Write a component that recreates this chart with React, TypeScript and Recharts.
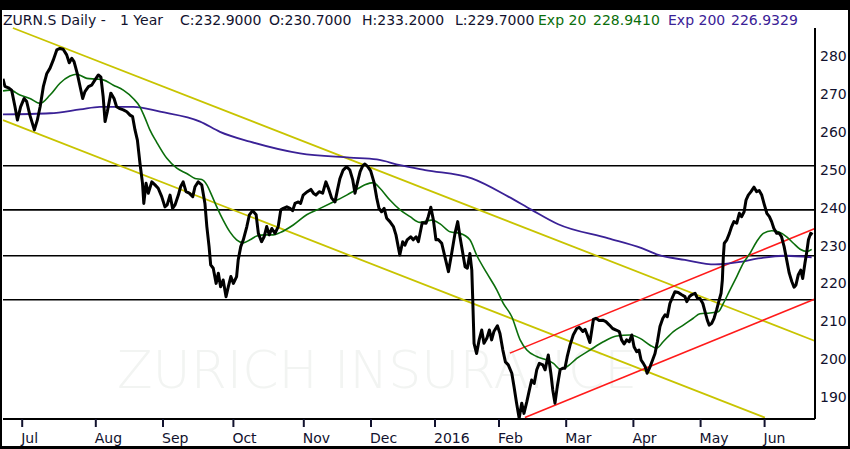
import React from 'react';
import { LineChart, Line, XAxis, YAxis, ReferenceLine } from 'recharts';

const W = 850;
const H = 449;

// trading day index (0 = 22 Jun 2015) and closing price
const close: [number, number][] = [
  [0, 274], [0.6, 272], [1.7, 271.6], [2.7, 271], [3.75, 266.6], [4.5, 263.1], [5.5, 266.6], [6.6, 268.8],
  [7.4, 268], [8.4, 264.4], [9.8, 260.5], [10.7, 263], [11.6, 266.6], [12.6, 271.9], [13.7, 275.4], [14.7, 276.8],
  [15.7, 278.9], [16.8, 281.6], [17.8, 282], [18.8, 281.8], [19.9, 280.3], [20.7, 278.2], [21.5, 279.4], [22.2, 278.5],
  [23.2, 275.4], [24.1, 271.9], [24.9, 268.8], [25.6, 270.6], [26.7, 271.9], [27.7, 272.3], [28.75, 273.7], [29.8, 275],
  [30.6, 274.4], [31.3, 269.3], [31.9, 262.7], [32.6, 265.3], [33.7, 270.2], [34.7, 268.8], [35.5, 266.6], [36.3, 266.2],
  [37.6, 265.8], [38.7, 265.3], [39.7, 264.4], [40.5, 264], [41.25, 260.5], [42, 257.8], [42.8, 251.7], [43.6, 246.4],
  [44, 241.1], [44.7, 246.4], [45.4, 243.8], [46.5, 246.8], [47.5, 246], [48.5, 245.1], [49.6, 242.9], [50.6, 240.2],
  [51.3, 240.7], [52.2, 243.3], [53, 239.8], [53.75, 240.7], [54.8, 243.3], [55.5, 245.5], [56.3, 246.8], [57.2, 244.2],
  [58.2, 243.8], [59.3, 242.9], [60, 245.5], [61, 246.8], [62.1, 246], [63.1, 241.1], [63.7, 235], [64.4, 229.7],
  [64.9, 224.9], [65.7, 224], [66.6, 220], [67.3, 222.7], [68, 219.1], [68.8, 220.9], [69.7, 216.5], [70.4, 219.1],
  [71.2, 221.8], [72, 220], [73, 221.8], [73.5, 226.2], [74.3, 229.7], [75.1, 231.5], [76.2, 235], [77, 238.1],
  [78, 239.2], [79.1, 238.1], [79.8, 233.2], [80.8, 231], [81.6, 232.3], [82.4, 235], [83.2, 232.8], [84, 234.5],
  [85, 233.2], [86, 235], [86.8, 239.4], [87.6, 239.8], [88.7, 240.2], [89.7, 239.8], [90.5, 239.2], [91.25, 241.1],
  [92.3, 241.5], [93, 241.1], [93.8, 243.3], [95.1, 244.2], [96.2, 244.8], [97, 243.8], [97.8, 243.3], [98.8, 244.2],
  [99.9, 243.8], [100.9, 246.8], [101.7, 245.1], [102.7, 242.5], [103.75, 241.5], [104.5, 244.6], [105.3, 247.7], [106.3, 249.9],
  [107.4, 250.8], [108.4, 249.9], [109.3, 247.3], [110, 243.8], [110.7, 246.4], [111.6, 249.5], [112.4, 251], [113.1, 251.5],
  [114, 250.8], [114.9, 249.7], [115.9, 246.8], [116.8, 242.5], [117.5, 239.8], [118.3, 238.9], [119.1, 239.8], [119.9, 237.2],
  [120.9, 236.3], [122, 235], [122.8, 232.8], [123.5, 229.7], [124, 227.5], [124.9, 231], [125.6, 230.1], [126.3, 231.5],
  [127.4, 232.3], [128.2, 231.5], [129.1, 232.3], [129.8, 231], [131, 236], [132.2, 235.9], [132.9, 237.6], [133.7, 240.1],
  [134.5, 236.7], [135.3, 231.5], [136, 231.6], [137.1, 230.6], [138.1, 227], [139.2, 223.1], [140.2, 227.9], [141.25, 233.2],
  [142.1, 236.3], [142.8, 232.3], [143.7, 227.9], [144.4, 224.4], [145.1, 224], [145.9, 227.9], [146.5, 223.5], [146.8, 215.6],
  [147.2, 204.2], [148, 201.5], [148.8, 205.1], [149.6, 207.7], [150.3, 204.2], [151.2, 205.5], [152, 207.7], [152.7, 205.1],
  [153.4, 207.3], [154.5, 208.8], [155.3, 206.8], [156.2, 202.4], [157, 199.3], [157.9, 198.5], [159, 196.3], [159.7, 192.7],
  [160.5, 188.4], [161.3, 184.4], [162.1, 188.4], [162.8, 185.7], [163.7, 188.8], [164.5, 191.9], [165.2, 194.5], [166, 193.6],
  [166.8, 197.2], [167.6, 198.9], [168.7, 198.5], [169.4, 197.2], [170.4, 201.1], [171.2, 196.3], [171.8, 191.9], [172.5, 188.4],
  [173.2, 192.7], [174.1, 197.2], [174.9, 197.6], [175.6, 197.6], [176.3, 200.6], [177.2, 203.7], [178.2, 206.4], [179.3, 208.1],
  [180.1, 208.4], [181.2, 207.3], [181.9, 207.9], [182.6, 206.4], [183.4, 204.4], [184, 207.7], [184.5, 210.5], [185.3, 210.8],
  [186.3, 210.2], [187.4, 210.3], [188.4, 209.9], [189.5, 209], [190.5, 208.1], [191.6, 207.7], [192.6, 207.3], [193.3, 205.1],
  [194.1, 204], [194.9, 205.1], [195.7, 204.6], [196.5, 206.4], [197.2, 203.3], [198, 202], [198.75, 202.4], [199.4, 199.8],
  [200.1, 198.9], [200.7, 198], [201.3, 196.3], [202.2, 198], [203, 199.8], [203.75, 201.5], [204.5, 204.6], [205.3, 208.6],
  [206.2, 210.8], [206.9, 211.7], [207.6, 211.2], [208.4, 214.7], [209.3, 216.5], [210, 217.8], [211, 217.6], [212.1, 217],
  [213.1, 216.5], [213.7, 215.2], [214.5, 216.5], [215.2, 217], [216.25, 217.4], [217, 216.1], [217.8, 216], [218.7, 214.7],
  [219.4, 212.5], [220.1, 210.3], [220.7, 209], [221.5, 209.5], [222.2, 210.8], [223, 213], [223.8, 215.6], [224.4, 217.4],
  [224.8, 220.9], [225.1, 227], [225.4, 230.6], [226.2, 231.5], [227, 233.2], [227.7, 235], [228.4, 236.3], [229.3, 235.9],
  [230.1, 238.5], [230.8, 237.6], [231.6, 238.9], [232.2, 242], [232.9, 243.3], [233.75, 244.2], [234.7, 245.4], [235.5, 244.2],
  [236.3, 244.5], [237.1, 243.3], [237.8, 241.1], [238.7, 238.5], [239.5, 237.6], [240.2, 236.3], [240.9, 234.5], [241.8, 233.2],
  [242.6, 233.2], [243.3, 232.3], [244.1, 229.7], [244.9, 226.2], [245.7, 222.7], [246.5, 220.5], [247.2, 219], [247.8, 219.6],
  [248.5, 222.2], [249.3, 223.5], [249.9, 221.3], [250.6, 225.3], [251.2, 228.4], [251.7, 231.5], [252.4, 233.2], [253, 232.9],
];

const ema20: [number, number][] = [
  [0, 270.8], [2.2, 271], [5.3, 269.7], [8.4, 268.8], [11.6, 267.5], [14.7, 269.7], [17.8, 272.8], [20.9, 274.7],
  [23, 275.2], [26.2, 274.1], [29.3, 273.9], [31.3, 273.7], [34.5, 272.3], [37.6, 271], [40.7, 268.8], [42.8, 266.6],
  [44.4, 263.6], [45.9, 260.5], [48, 257.3], [51.2, 253], [54.3, 250.4], [57.4, 249], [60, 247.7], [62.1, 247.4],
  [63.7, 246], [65.2, 243.3], [66.8, 240.2], [68.8, 236.7], [70.9, 233.6], [73, 231.5], [75.1, 230.7], [77.2, 231.5],
  [79.3, 232.5], [81.9, 232.8], [84.5, 232.8], [86.6, 233.4], [90.7, 235.4], [94.9, 238.1], [99.1, 239.8], [103.2, 241.5],
  [107.4, 243.3], [110.5, 244.8], [113.1, 246], [115.7, 246.6], [117.8, 245.1], [120.9, 242], [124.1, 239.4], [127.2, 237.6],
  [130.3, 236.1], [134, 236.7], [136.6, 235.7], [139.7, 233.6], [142.8, 233.2], [145.9, 231.5], [148, 227.5], [151.2, 222.7],
  [154.3, 218.3], [156.3, 214.8], [159, 211.2], [161.6, 205.1], [163.7, 202.4], [166.8, 200.7], [169.9, 199.8], [172, 198.9],
  [174.1, 197.4], [176.2, 198], [179.3, 200.2], [183.4, 202.4], [187.6, 204.6], [191.8, 206.1], [195.9, 206.4], [199.1, 205.5],
  [202.2, 203.7], [204.3, 202.9], [206.3, 204.6], [209.5, 207.3], [212.6, 209], [215.7, 210.8], [217.8, 212], [220.9, 212.2],
  [223.5, 212.5], [225.1, 214.7], [227.2, 218.3], [229.3, 221.8], [231.3, 225.3], [233.4, 227.9], [235.5, 231], [237.6, 233.2],
  [240.2, 233.9], [242.3, 233.6], [244.9, 232.3], [247, 230.6], [249.1, 229], [251.2, 228.4], [252.7, 229],
];

const ema200: [number, number][] = [
  [0, 264.6], [14.7, 264.9], [24.1, 265.9], [30.3, 266.6], [40.7, 266.6], [49.1, 265.3], [61.6, 262.7], [67.8, 260],
  [77.2, 257.4], [92.8, 254.3], [108.4, 253.2], [116.8, 252.7], [124.1, 251.2], [131.9, 249.9], [146.5, 247.7], [157.9, 242.9],
  [165.2, 239.4], [173.5, 235.6], [189.2, 231.9], [199.6, 229.3], [204.8, 227.5], [213.1, 226.2], [222.5, 225], [229.8, 225.6],
  [236, 226.6], [244.4, 227.3], [252.7, 226.9],
];

const monthTicks = [6, 29, 50, 72, 94, 115, 135, 155, 176, 197, 218, 238];
const monthLabels = ['Jul', 'Aug', 'Sep', 'Oct', 'Nov', 'Dec', '2016', 'Feb', 'Mar', 'Apr', 'May', 'Jun'];
const priceTicks = [190, 200, 210, 220, 230, 240, 250, 260, 270, 280];
const levels = [251.05, 239.4, 227.3, 215.7];

// trend channels: [start day, start price, end day, end price]
const yellowLines = [
  [3.1, 287.4, 253.75, 204.8],
  [0, 263.1, 238.1, 184.6],
];
const redLines = [
  [158.4, 201.6, 253.75, 234.5],
  [163.1, 184.6, 253.75, 215.9],
];

const X_MAX = 253.75;
const Y_MIN = 184.22;
const Y_MAX = 292.14;

const toPts = (arr: [number, number][]) => arr.map(([d, v]) => ({ d, v }));

const INK = '#12122e';
const GREEN = '#0b6e0b';
const PURPLE = '#3a2196';

const App = () => {
  return (
    <div style={{ position: 'absolute', left: 0, top: 0, width: W, height: H, background: '#fff', fontFamily: 'DejaVu Sans' }}>
      <svg width={W} height={H} style={{ position: 'absolute', left: 0, top: 0 }}>
        <text x={117} y={388} fontSize={52} fill="#f2f4f2" fontFamily="DejaVu Sans" fontWeight={200}>
          ZURICH INSURANCE
        </text>
      </svg>
      <div style={{ position: 'absolute', left: 0, top: 0 }}>
        <LineChart width={W} height={H} margin={{ top: 10, right: 0, bottom: 0, left: 3 }}>
          <XAxis
            dataKey="d"
            type="number"
            domain={[0, X_MAX]}
            ticks={monthTicks}
            allowDataOverflow
            height={30}
            axisLine={{ stroke: '#000', strokeWidth: 2 }}
            tickLine={{ stroke: INK, strokeWidth: 2 }}
            tickSize={8}
            tickMargin={0}
            tick={({ x, y, index }: any) => (
              <text x={x - 1} y={y + 16} fontSize={14} fill={INK} textAnchor="start" fontFamily="DejaVu Sans">
                {monthLabels[index]}
              </text>
            )}
          />
          <YAxis
            orientation="right"
            type="number"
            domain={[Y_MIN, Y_MAX]}
            ticks={priceTicks}
            allowDataOverflow
            width={35}
            axisLine={false}
            tickLine={false}
            tickSize={0}
            tickMargin={5}
            tick={({ x, y, payload }: any) => (
              <text x={x} y={y + 5} fontSize={14} fill={INK} textAnchor="start" fontFamily="DejaVu Sans">
                {payload.value}
              </text>
            )}
          />
          {levels.map((lv) => (
            <ReferenceLine key={lv} y={lv} stroke="#000" strokeWidth={1.6} ifOverflow="visible" />
          ))}
          {yellowLines.map(([x1, y1, x2, y2], i) => (
            <ReferenceLine
              key={'y' + i}
              segment={[{ x: x1, y: y1 }, { x: x2, y: y2 }]}
              stroke="#c8c400"
              strokeWidth={1.8}
              ifOverflow="visible"
            />
          ))}
          {redLines.map(([x1, y1, x2, y2], i) => (
            <ReferenceLine
              key={'r' + i}
              segment={[{ x: x1, y: y1 }, { x: x2, y: y2 }]}
              stroke="#ff1a1a"
              strokeWidth={1.6}
              ifOverflow="visible"
            />
          ))}
          <ReferenceLine
            segment={[{ x: X_MAX, y: 287.4 }, { x: X_MAX, y: Y_MIN }]}
            stroke="#000"
            strokeWidth={2}
            ifOverflow="visible"
          />
          <Line data={toPts(ema200)} dataKey="v" type="monotone" stroke={PURPLE} strokeWidth={1.8} dot={false} isAnimationActive={false} />
          <Line data={toPts(ema20)} dataKey="v" type="monotone" stroke={GREEN} strokeWidth={1.6} dot={false} isAnimationActive={false} />
          <Line data={toPts(close)} dataKey="v" type="linear" stroke="#000" strokeWidth={3} strokeLinejoin="round" dot={false} isAnimationActive={false} />
        </LineChart>
      </div>
      <svg width={W} height={H} style={{ position: 'absolute', left: 0, top: 0, pointerEvents: 'none' }}>
        <rect x={0} y={0} width={W} height={10} fill="#000" />
        <rect x={0} y={0} width={2} height={H} fill="#000" />
        <rect x={W - 2} y={0} width={2} height={H} fill="#000" />
        <rect x={0} y={H - 3} width={W} height={3} fill="#000" />
        <g fontSize={14} fontFamily="DejaVu Sans" fill={INK}>
          <text x={3} y={25}>ZURN.S Daily -</text>
          <text x={120} y={25}>1 Year</text>
          <text x={180} y={25}>C:232.9000</text>
          <text x={269} y={25}>O:230.7000</text>
          <text x={362} y={25}>H:233.2000</text>
          <text x={455} y={25}>L:229.7000</text>
          <text x={538} y={25} fill={GREEN}>Exp 20</text>
          <text x={593} y={25} fill={GREEN}>228.9410</text>
          <text x={668} y={25} fill={PURPLE}>Exp 200</text>
          <text x={731} y={25} fill={PURPLE}>226.9329</text>
        </g>
      </svg>
    </div>
  );
};

export default App;
